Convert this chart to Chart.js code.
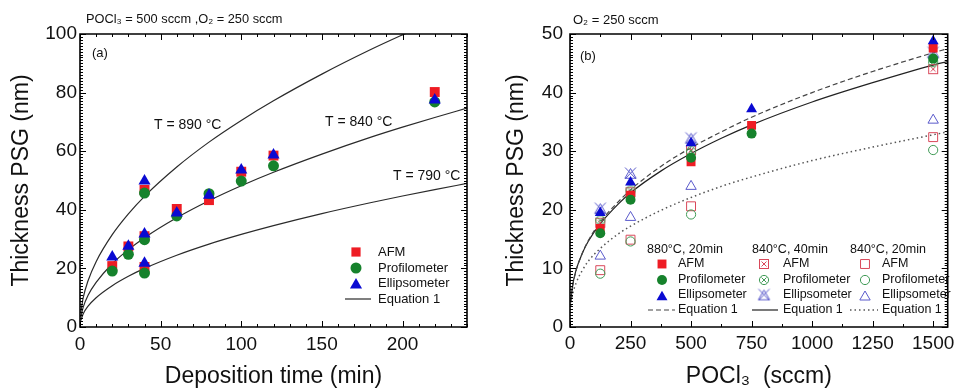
<!DOCTYPE html>
<html><head><meta charset="utf-8">
<script src="https://cdn.jsdelivr.net/npm/chart.js@4/dist/chart.umd.min.js"></script>
<style>
html,body{margin:0;padding:0;background:#fff;}
#wrap{position:relative;width:955px;height:390px;overflow:hidden;background:#fff;}
#c1{position:absolute;left:0;top:0;}
#c2{position:absolute;left:480px;top:0;}
</style></head><body>
<div id="wrap"><canvas id="c1" width="480" height="390"></canvas><canvas id="c2" width="475" height="390"></canvas></div>
<script>
// ---------- Panel (a): thickness vs deposition time ----------
const timeMin = [20, 30, 40, 40, 40, 60, 80, 100, 120, 220];
const afmA  = [20.8, 27.5, 20.5, 31.0, 46.8, 40.3, 43.3, 53.0, 58.5, 80.2];
const profA = [19.1, 24.8, 18.4, 29.8, 45.7, 37.9, 45.5, 49.8, 55.0, 76.8];
const ellA  = [23.9, 27.6, 21.8, 31.7, 49.8, 38.9, 45.0, 53.6, 58.7, 77.5];
const fitTime = [0.5, 2, 5, 10, 20, 30, 40, 60, 80, 100, 120, 150, 180, 200, 220, 240];
const fit890 = [5.0, 10.0, 15.8, 22.3, 31.5, 38.6, 44.6, 54.6, 63.1, 70.5, 77.2, 86.3, 94.6, 99.7, 104.6, 109.2];
const fit840 = [3.4, 6.8, 10.8, 15.2, 21.6, 26.4, 30.5, 37.3, 43.1, 48.2, 52.8, 59.0, 64.7, 68.2, 71.5, 74.7];
const fit790 = [2.2, 4.5, 7.1, 10.0, 14.1, 17.3, 20.0, 24.5, 28.3, 31.6, 34.6, 38.7, 42.4, 44.7, 46.9, 49.0];
const ticksA_x = [0, 50, 100, 150, 200];
const ticksA_y = [0, 20, 40, 60, 80, 100];

// ---------- Panel (b): thickness vs POCl3 flow ----------
const pocl880 = [125, 250, 500, 750, 1500];
const afm880  = [16.8, 22.5, 28.2, 34.4, 47.6];
const prof880 = [16.0, 21.7, 28.9, 33.0, 45.8];
const ell880  = [19.5, 24.7, 31.4, 37.2, 48.8];
const pocl840 = [125, 250, 500, 1500];
const afm840t40  = [17.8, 23.0, 30.2, 44.0];
const prof840t40 = [18.2, 23.3, 30.0, 45.2];
const ell840t40  = [20.2, 26.2, 32.2, 46.8];
const afm840t20  = [9.7, 14.9, 20.6, 32.4];
const prof840t20 = [9.1, 14.6, 19.2, 30.2];
const ell840t20  = [12.1, 18.7, 24.0, 35.3];
const fitPocl = [3, 10, 25, 50, 75, 125, 200, 250, 375, 500, 625, 750, 1000, 1250, 1500, 1560];
const fitB880    = [4.2, 6.7, 9.6, 12.5, 14.7, 17.9, 21.4, 23.4, 27.4, 30.6, 33.3, 35.8, 40.0, 43.6, 46.8, 47.5];
const fitB840t40 = [4.4, 6.9, 9.7, 12.5, 14.6, 17.6, 21.0, 22.9, 26.6, 29.6, 32.2, 34.5, 38.4, 41.7, 44.7, 45.3];
const fitB840t20 = [3.5, 5.4, 7.5, 9.6, 11.2, 13.4, 15.9, 17.2, 19.9, 22.1, 24.0, 25.6, 28.4, 30.7, 32.8, 33.3];
const ticksB_x = [0, 250, 500, 750, 1000, 1250, 1500];
const ticksB_y = [0, 10, 20, 30, 40, 50];

// ---------- styling ----------
const FONT = "'Liberation Sans', Arial, Helvetica, sans-serif";
Chart.defaults.font.family = FONT;
Chart.defaults.color = '#111';
const RED = '#ee1c24', GREEN = '#16822c', BLUE = '#0a0ad2';
const HRED = '#d9485a', HGREEN = '#3f9a55', HBLUE = '#5a5acb';

const pts = (xs, ys) => xs.map((x, i) => ({x: x, y: ys[i]}));

function shapePath(g, kind, x, y, r) {
  g.beginPath();
  if (kind === 'rect') { const s = r * Math.SQRT1_2; g.rect(x - s, y - s, 2 * s, 2 * s); }
  else if (kind === 'circle') { g.arc(x, y, r, 0, Math.PI * 2); }
  else if (kind === 'triangle') { g.moveTo(x, y - r); g.lineTo(x + 0.866 * r, y + 0.5 * r); g.lineTo(x - 0.866 * r, y + 0.5 * r); g.closePath(); }
}
function crossMarker(kind, color) {
  const size = kind === 'triangle' ? 15 : 12;
  const c = document.createElement('canvas'); c.width = size; c.height = size;
  const g = c.getContext('2d'); const m = size / 2;
  g.strokeStyle = color; g.lineWidth = 1;
  if (kind === 'rect') { g.strokeRect(1.5, 1.5, 9, 9); g.beginPath(); g.moveTo(3.5, 3.5); g.lineTo(8.5, 8.5); g.moveTo(8.5, 3.5); g.lineTo(3.5, 8.5); g.stroke(); }
  else if (kind === 'circle') { g.beginPath(); g.arc(m, m, 4.6, 0, Math.PI * 2); g.stroke(); g.beginPath(); g.moveTo(3.5, 3.5); g.lineTo(8.5, 8.5); g.moveTo(8.5, 3.5); g.lineTo(3.5, 8.5); g.stroke(); }
  else { shapePath(g, 'triangle', m, m + 1.5, 6.5); g.stroke(); g.beginPath(); g.moveTo(2, 1.5); g.lineTo(13, 13); g.moveTo(13, 1.5); g.lineTo(2, 13); g.stroke(); }
  return c;
}
const xRect = crossMarker('rect', HRED), xCirc = crossMarker('circle', HGREEN), xTri = crossMarker('triangle', HBLUE);

// frame with inward ticks: every edge and tick is placed with the scales' getPixelForValue
function drawFrame(chart, o) {
  const ctx = chart.ctx; const xs = chart.scales.x, ys = chart.scales.y;
  const L = xs.getPixelForValue(o.xmin), R = xs.getPixelForValue(o.xmax);
  const T = ys.getPixelForValue(o.ymax), B = ys.getPixelForValue(o.ymin);
  ctx.save();
  ctx.setLineDash([]);
  ctx.globalAlpha = 1;
  ctx.globalCompositeOperation = 'source-over';
  ctx.strokeStyle = 'black';
  ctx.lineWidth = 1;
  const maj = (v, s) => Math.abs(v / s - Math.round(v / s)) < 1e-6;
  const nx = Math.round((o.xmax - o.xmin) / o.xMinor);
  for (let i = 0; i <= nx; i++) {
    const v = o.xmin + i * o.xMinor; if (v > o.xmax + 1e-6) break;
    const px = Math.round(xs.getPixelForValue(v)) + 0.5; const len = maj(v, o.xMajor) ? 6 : 3;
    ctx.beginPath(); ctx.moveTo(px, B); ctx.lineTo(px, B - len); ctx.moveTo(px, T); ctx.lineTo(px, T + len); ctx.stroke();
  }
  const ny = Math.round((o.ymax - o.ymin) / o.yMinor);
  for (let i = 0; i <= ny; i++) {
    const v = o.ymin + i * o.yMinor;
    const py = Math.round(ys.getPixelForValue(v)) + 0.5; const len = maj(v, o.yMajor) ? 6 : 3;
    ctx.beginPath(); ctx.moveTo(L, py); ctx.lineTo(L + len, py); ctx.moveTo(R, py); ctx.lineTo(R - len, py); ctx.stroke();
  }
  ctx.lineWidth = 1.6;
  ctx.beginPath(); ctx.moveTo(L, T); ctx.lineTo(R, T); ctx.lineTo(R, B); ctx.lineTo(L, B); ctx.closePath(); ctx.stroke();
  ctx.restore();
}

// annotation texts, legend and frame
function makeNotes(o) {
  return {
    id: 'notes' + o.name,
    afterDraw(chart) {
      const ctx = chart.ctx;
      try { drawFrame(chart, o.frame); } catch (e) { /* keep drawing the texts */ }
      ctx.save();
      o.texts.forEach(t => {
        ctx.font = t.size + 'px ' + FONT;
        ctx.fillStyle = '#111'; ctx.textAlign = 'left'; ctx.textBaseline = 'middle';
        ctx.fillText(t.text, t.x, t.y);
      });
      o.lines.forEach(l => {
        ctx.beginPath(); ctx.strokeStyle = l.color; ctx.lineWidth = l.width; ctx.setLineDash(l.dash || []);
        ctx.moveTo(l.x1, l.y); ctx.lineTo(l.x2, l.y); ctx.stroke(); ctx.setLineDash([]);
      });
      o.marks.forEach(m => {
        if (m.img) { ctx.drawImage(m.img, m.x - m.img.width / 2, m.y - m.img.height / 2); return; }
        shapePath(ctx, m.kind, m.x, m.y, m.r);
        if (m.fill) { ctx.fillStyle = m.fill; ctx.fill(); }
        if (m.stroke) { ctx.strokeStyle = m.stroke; ctx.lineWidth = 1; ctx.stroke(); }
      });
      ctx.restore();
    }
  };
}

function axis(min, max, tickVals, pad, isX, size, title, titlePad) {
  return {
    type: 'linear', min: min, max: max,
    afterFit: s => {
      if (isX) { s.height = size; s.paddingLeft = 0; s.paddingRight = 0; }
      else { s.width = size; s.paddingTop = 0; s.paddingBottom = 0; }
    },
    grid: {display: false, drawTicks: false}, border: {display: false},
    afterBuildTicks: s => { s.ticks = tickVals.map(v => ({value: v})); },
    ticks: {padding: pad, color: '#111', font: {size: 19}, callback: v => String(v)},
    title: {display: true, text: title, color: '#111', font: {size: 23, lineHeight: 1.2}, padding: titlePad}
  };
}

// ---------- Chart (a) ----------
new Chart(document.getElementById('c1'), {
  type: 'scatter',
  data: {datasets: [
    {label: 'Ellipsometer', data: pts(timeMin, ellA), pointStyle: 'triangle', pointRadius: 7, backgroundColor: BLUE, borderColor: BLUE, borderWidth: 0, order: 1},
    {label: 'Profilometer', data: pts(timeMin, profA), pointStyle: 'circle', pointRadius: 5.5, backgroundColor: GREEN, borderColor: GREEN, borderWidth: 0, order: 2},
    {label: 'AFM', data: pts(timeMin, afmA), pointStyle: 'rect', pointRadius: 7, backgroundColor: RED, borderColor: RED, borderWidth: 0, order: 3},
    {label: 'T = 890 °C', data: pts(fitTime, fit890), showLine: true, pointRadius: 0, borderColor: '#2a2a2a', borderWidth: 1.2, cubicInterpolationMode: 'monotone', order: 4},
    {label: 'T = 840 °C', data: pts(fitTime, fit840), showLine: true, pointRadius: 0, borderColor: '#2a2a2a', borderWidth: 1.2, cubicInterpolationMode: 'monotone', order: 5},
    {label: 'T = 790 °C', data: pts(fitTime, fit790), showLine: true, pointRadius: 0, borderColor: '#2a2a2a', borderWidth: 1.2, cubicInterpolationMode: 'monotone', order: 6}
  ]},
  options: {
    responsive: false, animation: false, events: [],
    layout: {padding: {top: 34, right: 13, left: 0, bottom: 0}},
    plugins: {legend: {display: false}, tooltip: {enabled: false}},
    scales: {
      x: axis(0, 240, ticksA_x, 6, true, 63, 'Deposition time (min)', {top: 0, bottom: 0}),
      y: axis(0, 100, ticksA_y, 3, false, 80, 'Thickness PSG (nm)', {top: 8, bottom: 0})
    }
  },
  plugins: [
    makeNotes({
      name: 'A',
      frame: {xmin: 0, xmax: 240, ymin: 0, ymax: 100, xMinor: 10, xMajor: 50, yMinor: 1, yMajor: 20},
      texts: [
        {text: 'POCl\u2083 = 500 sccm ,O\u2082 = 250 sccm', x: 86, y: 19, size: 12.8},
        {text: '(a)', x: 92, y: 53, size: 13},
        {text: 'T = 890 °C', x: 154, y: 125, size: 14},
        {text: 'T = 840 °C', x: 325, y: 122, size: 14},
        {text: 'T = 790 °C', x: 393, y: 176, size: 14},
        {text: 'AFM', x: 378, y: 252, size: 13},
        {text: 'Profilometer', x: 378, y: 268, size: 13},
        {text: 'Ellipsometer', x: 378, y: 283, size: 13},
        {text: 'Equation 1', x: 378, y: 299, size: 13}
      ],
      lines: [{x1: 345, x2: 371, y: 299, color: '#2a2a2a', width: 1.2}],
      marks: [
        {kind: 'rect', x: 356, y: 252, r: 6.5, fill: RED},
        {kind: 'circle', x: 356, y: 268, r: 5.5, fill: GREEN},
        {kind: 'triangle', x: 356, y: 285, r: 7, fill: BLUE}
      ]
    })
  ]
});

// ---------- Chart (b) ----------
new Chart(document.getElementById('c2'), {
  type: 'scatter',
  data: {datasets: [
    {label: '880°C, 20min Ellipsometer', data: pts(pocl880, ell880), pointStyle: 'triangle', pointRadius: 6.3, backgroundColor: BLUE, borderColor: BLUE, borderWidth: 0, order: 1},
    {label: '880°C, 20min Profilometer', data: pts(pocl880, prof880), pointStyle: 'circle', pointRadius: 5, backgroundColor: GREEN, borderColor: GREEN, borderWidth: 0, order: 2},
    {label: '880°C, 20min AFM', data: pts(pocl880, afm880), pointStyle: 'rect', pointRadius: 6.3, backgroundColor: RED, borderColor: RED, borderWidth: 0, order: 3},
    {label: '840°C, 40min Ellipsometer', data: pts(pocl840, ell840t40), pointStyle: xTri, order: 4},
    {label: '840°C, 40min Profilometer', data: pts(pocl840, prof840t40), pointStyle: xCirc, order: 5},
    {label: '840°C, 40min AFM', data: pts(pocl840, afm840t40), pointStyle: xRect, order: 6},
    {label: '840°C, 20min Ellipsometer', data: pts(pocl840, ell840t20), pointStyle: 'triangle', pointRadius: 6, backgroundColor: 'rgba(0,0,0,0)', borderColor: HBLUE, borderWidth: 1, order: 7},
    {label: '840°C, 20min Profilometer', data: pts(pocl840, prof840t20), pointStyle: 'circle', pointRadius: 4.6, backgroundColor: 'rgba(0,0,0,0)', borderColor: HGREEN, borderWidth: 1, order: 8},
    {label: '840°C, 20min AFM', data: pts(pocl840, afm840t20), pointStyle: 'rect', pointRadius: 6.3, backgroundColor: 'rgba(0,0,0,0)', borderColor: HRED, borderWidth: 1, order: 9},
    {label: 'Equation 1 (880°C, 20min)', data: pts(fitPocl, fitB880), showLine: true, pointRadius: 0, borderColor: '#444', borderWidth: 1.2, borderDash: [5, 3], cubicInterpolationMode: 'monotone', order: 10},
    {label: 'Equation 1 (840°C, 40min)', data: pts(fitPocl, fitB840t40), showLine: true, pointRadius: 0, borderColor: '#222', borderWidth: 1.2, cubicInterpolationMode: 'monotone', order: 11},
    {label: 'Equation 1 (840°C, 20min)', data: pts(fitPocl, fitB840t20), showLine: true, pointRadius: 0, borderColor: '#555', borderWidth: 1.5, borderDash: [1.5, 3], cubicInterpolationMode: 'monotone', order: 12}
  ]},
  options: {
    responsive: false, animation: false, events: [],
    layout: {padding: {top: 34, right: 3, left: 0, bottom: 0}},
    plugins: {legend: {display: false}, tooltip: {enabled: false}},
    scales: {
      x: axis(0, 1560, ticksB_x, 5, true, 63, 'POCl\u2083  (sccm)', {top: 0, bottom: 0}),
      y: axis(0, 50, ticksB_y, 7, false, 90, 'Thickness PSG (nm)', {top: 23, bottom: 0})
    }
  },
  plugins: [
    makeNotes({
      name: 'B',
      frame: {xmin: 0, xmax: 1560, ymin: 0, ymax: 50, xMinor: 125, xMajor: 250, yMinor: 0.5, yMajor: 10},
      texts: [
        {text: 'O\u2082 = 250 sccm', x: 93, y: 20, size: 13},
        {text: '(b)', x: 100, y: 56, size: 13},
        {text: '880°C, 20min', x: 167, y: 250, size: 12.5},
        {text: '840°C, 40min', x: 272, y: 250, size: 12.5},
        {text: '840°C, 20min', x: 370, y: 250, size: 12.5},
        {text: 'AFM', x: 198, y: 264, size: 12.5},
        {text: 'Profilometer', x: 198, y: 280, size: 12.5},
        {text: 'Ellipsometer', x: 198, y: 295, size: 12.5},
        {text: 'Equation 1', x: 198, y: 310, size: 12.5},
        {text: 'AFM', x: 303, y: 264, size: 12.5},
        {text: 'Profilometer', x: 303, y: 280, size: 12.5},
        {text: 'Ellipsometer', x: 303, y: 295, size: 12.5},
        {text: 'Equation 1', x: 303, y: 310, size: 12.5},
        {text: 'AFM', x: 402, y: 264, size: 12.5},
        {text: 'Profilometer', x: 402, y: 280, size: 12.5},
        {text: 'Ellipsometer', x: 402, y: 295, size: 12.5},
        {text: 'Equation 1', x: 402, y: 310, size: 12.5}
      ],
      lines: [
        {x1: 168, x2: 195, y: 310, color: '#444', width: 1.2, dash: [5, 3]},
        {x1: 272, x2: 298, y: 310, color: '#222', width: 1.2},
        {x1: 370, x2: 398, y: 310, color: '#555', width: 1.5, dash: [1.5, 3]}
      ],
      marks: [
        {kind: 'rect', x: 182, y: 264, r: 6.3, fill: RED},
        {kind: 'circle', x: 182, y: 280, r: 5, fill: GREEN},
        {kind: 'triangle', x: 182, y: 297, r: 6.3, fill: BLUE},
        {img: xRect, x: 284, y: 264},
        {img: xCirc, x: 284, y: 280},
        {img: xTri, x: 284, y: 295},
        {kind: 'rect', x: 385, y: 264, r: 6.3, stroke: HRED},
        {kind: 'circle', x: 385, y: 280, r: 4.6, stroke: HGREEN},
        {kind: 'triangle', x: 385, y: 297, r: 6, stroke: HBLUE}
      ]
    })
  ]
});
</script>
</body></html>
